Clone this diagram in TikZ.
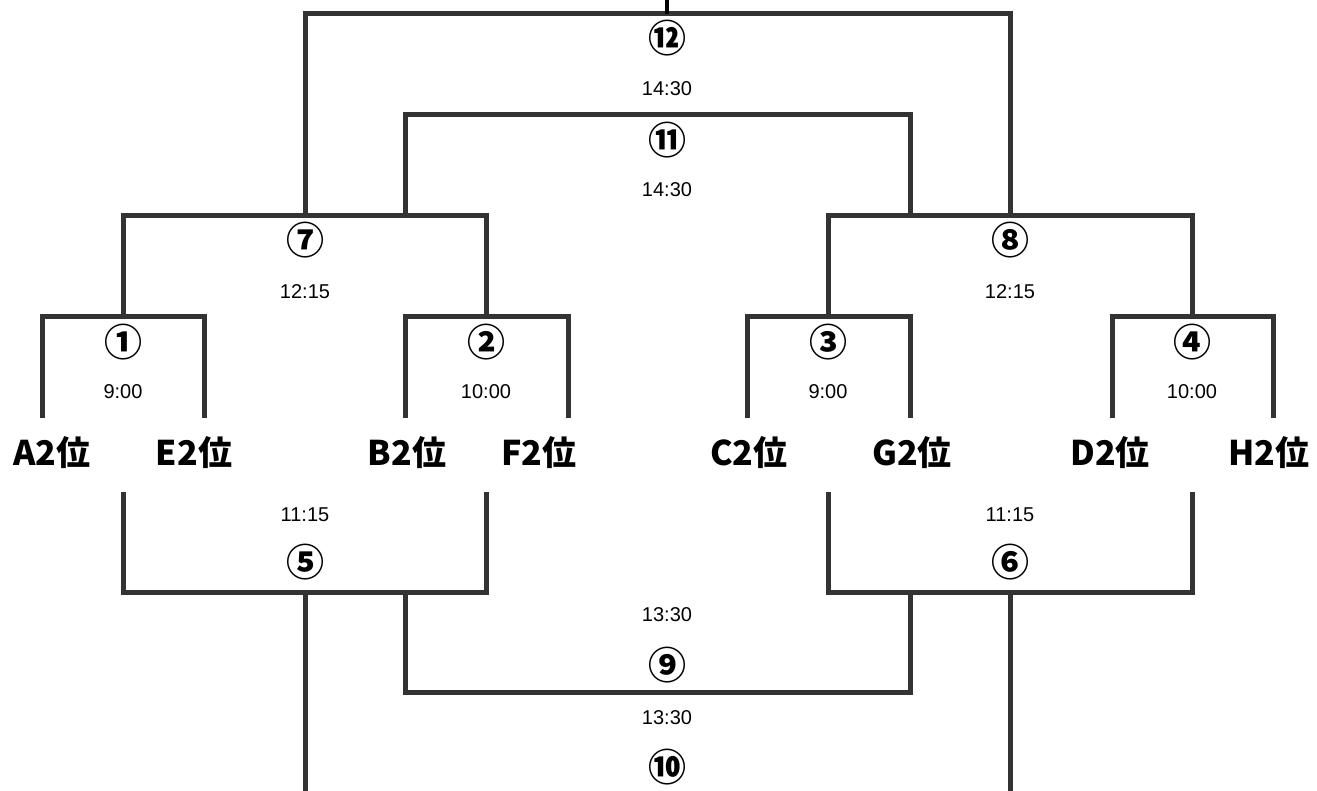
\documentclass[tikz,border=0pt]{standalone}
\usepackage{fontspec}
\setmainfont{Liberation Sans}
\newfontfamily\jpfont{Noto Sans CJK JP}
\definecolor{barcol}{HTML}{333333}
\begin{document}
\begin{tikzpicture}[x=1pt, y=-1pt,
        bar/.style={line width=5pt, draw=barcol},
        team/.style={font=\jpfont\bfseries\fontsize{34}{40}\selectfont, inner sep=0pt},
        num/.style={font=\jpfont\bfseries\fontsize{38}{44}\selectfont, inner sep=0pt},
        time/.style={font=\fontsize{20}{24}\selectfont, inner sep=0pt}]
    \useasboundingbox (0,0) rectangle (1317,791);
    % teams
    \foreach \x/\t/\n in {52/A/a, 194/E/e, 407/B/b, 539/F/f, 749/C/c, 912/G/g, 1110/D/d, 1269/H/h}
        \node[team] (\n) at (\x,453) {\t2位};
    % bracket feet and corners
    \coordinate (fA) at (42,418);   \coordinate (fE) at (204,418);
    \coordinate (fB) at (405,418);  \coordinate (fF) at (568,418);
    \coordinate (fC) at (747,418);  \coordinate (fG) at (910,418);
    \coordinate (fD) at (1112,418); \coordinate (fH) at (1273,418);
    \coordinate (t1) at (123,317);  \coordinate (t2) at (486,317);
    \coordinate (t3) at (828,317);  \coordinate (t4) at (1192,317);
    \coordinate (t7) at (305,216);  \coordinate (t8) at (1010,216);
    \coordinate (w7) at (405,216);  \coordinate (w8) at (910,216);
    \coordinate (t11) at (667,115); \coordinate (t12) at (667,14);
    \coordinate (top) at (667,0);
    \coordinate (l1) at (123,492);  \coordinate (l2) at (486,492);
    \coordinate (l3) at (828,492);  \coordinate (l4) at (1192,492);
    \coordinate (b5) at (305,592);  \coordinate (b6) at (1010,592);
    \coordinate (v5) at (405,592);  \coordinate (v6) at (910,592);
    \coordinate (b9) at (667,692);
    \coordinate (e5) at (305,791);  \coordinate (e6) at (1010,791);
    % winners side
    \draw[bar] (fA) |- (t1) -| (fE);
    \draw[bar] (fB) |- (t2) -| (fF);
    \draw[bar] (fC) |- (t3) -| (fG);
    \draw[bar] (fD) |- (t4) -| (fH);
    \draw[bar] (t1) |- (t7) -| (t2);
    \draw[bar] (t3) |- (t8) -| (t4);
    \draw[bar] (w7) |- (t11) -| (w8);
    \draw[bar] (t7) |- (t12) -| (t8);
    \draw[line width=3.5pt] (t12) -- (top);
    % losers side
    \draw[bar] (l1) |- (b5) -| (l2);
    \draw[bar] (l3) |- (b6) -| (l4);
    \draw[bar] (v5) |- (b9) -| (v6);
    \draw[bar] (b5) -- (e5);
    \draw[bar] (b6) -- (e6);
    % match numbers
    \foreach \x/\y/\m/\n in {123/342/①/n1, 486/342/②/n2, 828/342/③/n3, 1192/342/④/n4,
            305/562/⑤/n5, 1010/562/⑥/n6, 305/240/⑦/n7, 1010/240/⑧/n8,
            667/665/⑨/n9, 667/767/⑩/n10, 667/140/⑪/n11, 667/38/⑫/n12}
        \node[num] (\n) at (\x,\y) {\m};
    % kick-off times
    \foreach \x/\y/\s/\n in {123/392/9:00/k1, 486/392/10:00/k2, 828/392/9:00/k3, 1192/392/10:00/k4,
            305/515/11:15/k5, 1010/515/11:15/k6, 305/292/12:15/k7, 1010/292/12:15/k8,
            667/615/13:30/k9, 667/718/13:30/k10, 667/190/14:30/k11, 667/89/14:30/k12}
        \node[time] (\n) at (\x,\y) {\s};
\end{tikzpicture}
\end{document}
